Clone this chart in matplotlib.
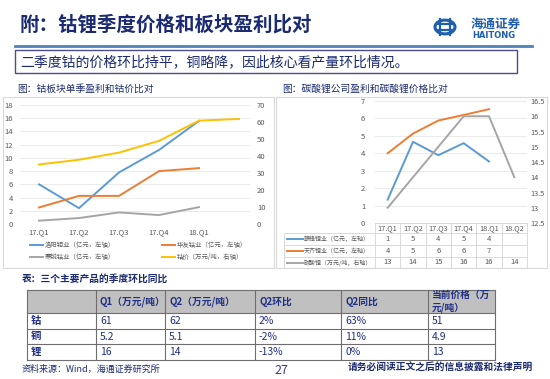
import numpy as np
import matplotlib
matplotlib.use("Agg")
import matplotlib.pyplot as plt
from matplotlib.lines import Line2D
from matplotlib.patches import Rectangle, Circle
import matplotlib.transforms as mtransforms

plt.rcParams['font.family'] = ['Noto Sans CJK SC', 'DejaVu Sans']

# ---------------- data ----------------
quarters_left = ['17.Q1', '17.Q2', '17.Q3', '17.Q4', '18.Q1', '']
luoyang = [6.0, 2.4, 7.8, 11.2, 15.6]
huayou = [2.5, 4.25, 4.25, 8.0, 8.45]
hanrui = [0.5, 0.9, 1.75, 1.35, 2.55]
cobalt_price = [35.0, 37.8, 42.0, 48.9, 60.8, 61.8]
left_labels = ['洛阳钼业（亿元，左轴）', '华友钴业（亿元，左轴）',
               '寒锐钴业（亿元，左轴）', '钴价（万元/吨，右轴）']

quarters_right = ['17.Q1', '17.Q2', '17.Q3', '17.Q4', '18.Q1', '18.Q2']
ganfeng = [1.34, 4.66, 3.89, 4.58, 3.53]
tianqi = [4.0, 5.13, 5.88, 6.2, 6.53]
li2co3 = [13.0, 14.0, 15.0, 16.0, 16.0, 14.0]
right_labels = ['赣锋锂业（亿元，左轴）', '天齐锂业（亿元，左轴）', '碳酸锂（万元/吨，右轴）']

table_header = ['', 'Q1（万元/吨）', 'Q2（万元/吨）', 'Q2环比', 'Q2同比', '当前价格（万\n元/吨）']
table_rows = ['钴', '铜', '锂']
q1_vals = ['61', '5.2', '16']
q2_vals = ['62', '5.1', '14']
qoq_vals = ['2%', '-2%', '-13%']
yoy_vals = ['63%', '11%', '0%']
cur_vals = ['51', '4.9', '13']

# ---------------- helpers ----------------
W, H = 550, 379
fig = plt.figure(figsize=(W / 100, H / 100), dpi=100)
fig.patch.set_facecolor('white')


def fx(x):
    return x / W


def fy(y):
    return 1 - y / H


def rect(l, t, r, b):
    return [fx(l), fy(b), (r - l) / W, (b - t) / H]


NAVY = '#1B2A72'
TXT = '#1F2F86'
GREY_T = '#595959'
C_BLUE, C_ORANGE, C_GREY, C_YELLOW = '#5B9BD5', '#ED7D31', '#A5A5A5', '#FFC000'

# ---------------- header ----------------
fig.text(fx(20), fy(25), '附：钴锂季度价格和板块盈利比对', fontsize=14, fontweight='bold',
         color=NAVY, va='center', ha='left')
fig.add_artist(Line2D([fx(15), fx(532)], [fy(46), fy(46)], color='#4F81BD', lw=2))
fig.add_artist(Rectangle((fx(15), fy(73)), (517 - 15) / W, (73 - 50) / H, transform=fig.transFigure,
                         facecolor='white', edgecolor='#4B4B8F', lw=1))
fig.text(fx(20), fy(62), '二季度钴的价格环比持平，铜略降，因此核心看产量环比情况。', fontsize=10,
         color=NAVY, va='center', ha='left')

# logo
fig.add_artist(Circle((fx(445), fy(27)), 10 / W, transform=fig.transFigure,
                      facecolor='none', edgecolor='#1F5FAD', lw=2.2))
fig.add_artist(Line2D([fx(440), fx(440)], [fy(19), fy(35)], color='#1F5FAD', lw=1.6))
fig.add_artist(Line2D([fx(450), fx(450)], [fy(19), fy(35)], color='#1F5FAD', lw=1.6))
fig.add_artist(Line2D([fx(437), fx(453)], [fy(24), fy(24)], color='#1F5FAD', lw=1.6))
fig.add_artist(Line2D([fx(437), fx(453)], [fy(30), fy(30)], color='#1F5FAD', lw=1.6))
fig.text(fx(496), fy(24), '海通证券', fontsize=9, fontweight='bold', color='#1F5FAD',
         ha='center', va='center', style='italic')
fig.text(fx(494), fy(35), 'HAITONG', fontsize=6, fontweight='bold', color='#1F5FAD',
         ha='center', va='center', family='DejaVu Sans')

# captions
fig.text(fx(17), fy(89), '图：钴板块单季盈利和钴价比对', fontsize=7, color=NAVY, va='center')
fig.text(fx(282), fy(89), '图：碳酸锂公司盈利和碳酸锂价格比对', fontsize=7, color=NAVY, va='center')

# panel borders
for (l, t, r, b) in [(3, 97, 274, 268), (276, 97, 547, 268)]:
    fig.add_artist(Rectangle((fx(l), fy(b)), (r - l) / W, (b - t) / H, transform=fig.transFigure,
                             facecolor='none', edgecolor='#D9D9D9', lw=0.8))

# ---------------- left chart ----------------
ax1 = fig.add_axes(rect(20, 105, 250, 224))
ax1.set_facecolor('none')
x5 = np.arange(5)
x6 = np.arange(6)
l1, = ax1.plot(x5, luoyang, color=C_BLUE, lw=1.4)
l2, = ax1.plot(x5, huayou, color=C_ORANGE, lw=1.4)
l3, = ax1.plot(x5, hanrui, color=C_GREY, lw=1.4)
ax1.set_ylim(0, 18)
ax1.set_yticks(np.arange(0, 19, 2))
ax1.set_xlim(-0.475, 5.275)
ax1.set_xticks(x6)
ax1.set_xticklabels(quarters_left)
ax1.grid(axis='y', color='#E8E8E8', lw=0.6)
ax1.set_axisbelow(True)
ax1b = ax1.twinx()
l4, = ax1b.plot(x6, cobalt_price, color=C_YELLOW, lw=1.4)
ax1b.set_ylim(0, 70)
ax1b.set_yticks(np.arange(0, 71, 10))
for a in (ax1, ax1b):
    for s in a.spines.values():
        s.set_visible(False)
    a.tick_params(length=0, labelsize=5.5, colors=GREY_T, pad=5)
ax1.tick_params(axis='x', pad=3)

# legend for left chart
handles = [l1, l2, l3, l4]
pos = [(30, 245), (162, 245), (30, 257), (162, 257)]
for h, lab, (px, py) in zip(handles, left_labels, pos):
    fig.add_artist(Line2D([fx(px), fx(px + 13)], [fy(py), fy(py)], color=h.get_color(), lw=1.4))
    fig.text(fx(px + 15), fy(py), lab, fontsize=4.6, color=GREY_T, va='center', ha='left')

# ---------------- right chart ----------------
ax2 = fig.add_axes(rect(375, 101, 527, 223))
ax2.set_facecolor('none')
r1, = ax2.plot(x5, ganfeng, color=C_BLUE, lw=1.4)
r2, = ax2.plot(x5, tianqi, color=C_ORANGE, lw=1.4)
ax2.set_ylim(0, 7)
ax2.set_yticks(np.arange(0, 8, 1))
ax2.set_xlim(-0.5, 5.5)
ax2.set_xticks([])
ax2.grid(axis='y', color='#E8E8E8', lw=0.6)
ax2b = ax2.twinx()
r3, = ax2b.plot(x6, li2co3, color=C_GREY, lw=1.4)
ax2b.set_ylim(12.5, 16.5)
ax2b.set_yticks(np.arange(12.5, 16.6, 0.5))
ax2b.set_yticklabels([f'{v:g}' for v in np.arange(12.5, 16.6, 0.5)])
ax2b.set_xticks([])
for a in (ax2, ax2b):
    for s in a.spines.values():
        s.set_visible(False)
    a.tick_params(length=0, labelsize=5.5, colors=GREY_T, pad=7)
ax2b.tick_params(axis='y', pad=2.5, labelsize=5.3)

# data table under right chart
bt = mtransforms.blended_transform_factory(ax2.transData, fig.transFigure)
lc = '#D9D9D9'
for yy in [223, 233, 245, 257, 268]:
    fig.add_artist(Line2D([-0.5, 5.5], [fy(yy), fy(yy)], color=lc, lw=0.7, transform=bt))
    if yy != 223:
        fig.add_artist(Line2D([fx(284), fx(375)], [fy(yy), fy(yy)], color=lc, lw=0.7))
for i in range(7):
    fig.add_artist(Line2D([i - 0.5, i - 0.5], [fy(223), fy(268)], color=lc, lw=0.7, transform=bt))
fig.add_artist(Line2D([fx(284), fx(284)], [fy(233), fy(268)], color=lc, lw=0.7))
for i, q in enumerate(quarters_right):
    fig.text(i, fy(228.5), q, transform=bt, fontsize=5.3, color=GREY_T, ha='center', va='center')
row_y = [239, 251, 262.5]
series_r = [ganfeng, tianqi, li2co3]
for h, lab, vals, yy in zip([r1, r2, r3], right_labels, series_r, row_y):
    fig.add_artist(Line2D([fx(287), fx(303)], [fy(yy), fy(yy)], color=h.get_color(), lw=1.4))
    fig.text(fx(304), fy(yy), lab, fontsize=4.3, color=GREY_T, va='center', ha='left')
    for i, v in enumerate(vals):
        fig.text(i, fy(yy), f'{v:.0f}', transform=bt, fontsize=5.5, color=GREY_T,
                 ha='center', va='center')

# ---------------- bottom table ----------------
fig.text(fx(22), fy(279), '表：三个主要产品的季度环比同比', fontsize=7, fontweight='bold',
         color=NAVY, va='center')
cols = [27, 96, 165, 255, 341, 428, 495]
rows = [290, 313, 329, 344, 360]
fig.add_artist(Rectangle((fx(27), fy(313)), (495 - 27) / W, (313 - 290) / H,
                         transform=fig.transFigure, facecolor='#C0C0C0', edgecolor='none'))
tc = '#6E6E6E'
for yy in rows:
    fig.add_artist(Line2D([fx(27), fx(495)], [fy(yy), fy(yy)], color=tc, lw=0.8))
for xx in cols:
    fig.add_artist(Line2D([fx(xx), fx(xx)], [fy(290), fy(360)], color=tc, lw=0.8))
for j, htxt in enumerate(table_header):
    if htxt:
        fig.text(fx(cols[j] + 4), fy(301.5), htxt, fontsize=7, fontweight='bold', color=TXT,
                 ha='left', va='center', linespacing=1.2)
body_cols = [table_rows, q1_vals, q2_vals, qoq_vals, yoy_vals, cur_vals]
for j, colvals in enumerate(body_cols):
    for i, v in enumerate(colvals):
        yc = (rows[i + 1] + rows[i + 2]) / 2
        fig.text(fx(cols[j] + 4), fy(yc), v, fontsize=7.5, color=TXT, ha='left', va='center',
                 fontweight='bold' if j == 0 else 'normal')

# footer
fig.text(fx(22), fy(369), '资料来源：Wind，海通证券研究所', fontsize=6.5, color=NAVY, va='center')
fig.text(fx(281), fy(370), '27', fontsize=9, color='#3A3A9A', ha='center', va='center')
fig.text(fx(348), fy(368), '请务必阅读正文之后的信息披露和法律声明', fontsize=7, fontweight='bold',
         color=NAVY, ha='left', va='center')

fig.savefig('out.png', dpi=100, facecolor='white')
